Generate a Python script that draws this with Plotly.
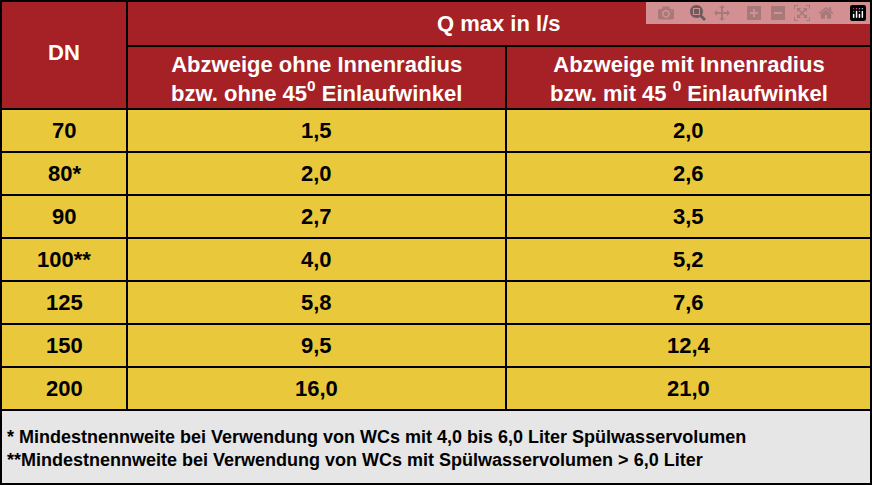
import plotly.graph_objects as go

dn = ["70", "80*", "90", "100**", "125", "150", "200"]
q_ohne = ["1,5", "2,0", "2,7", "4,0", "5,8", "9,5", "16,0"]
q_mit = ["2,0", "2,6", "3,5", "5,2", "7,6", "12,4", "21,0"]
header_top = "Q max in l/s"
header_dn = "DN"
header_ohne = "Abzweige ohne Innenradius<br>bzw. ohne 45<sup>0</sup> Einlaufwinkel"
header_mit = "Abzweige mit Innenradius<br>bzw. mit 45 <sup>0</sup> Einlaufwinkel"
footnotes = [
    "* Mindestnennweite bei Verwendung von WCs mit 4,0 bis 6,0 Liter Spülwasservolumen",
    "**Mindestnennweite bei Verwendung von WCs mit Spülwasservolumen > 6,0 Liter",
]

RED = "#a52126"
YELLOW = "#e9c93b"
GREY = "#e6e6e6"
W, H = 872, 485
cols = [1, 127, 506, 871]
head_split, head_bottom = 46, 109
row_h = 43
font = "Liberation Sans"

fig = go.Figure()
line = dict(color="black", width=2)


def cell(x0, x1, y0, y1, color):
    fig.add_shape(type="rect", x0=x0, x1=x1, y0=y0, y1=y1, fillcolor=color, line=line, layer="below")


def text(x, y, s, color, size, anchor="center"):
    fig.add_annotation(x=x, y=y, text=s, showarrow=False, xanchor=anchor,
                       font=dict(family=font, size=size, color=color))


# header
cell(cols[0], cols[1], 1, head_bottom, RED)
cell(cols[1], cols[3], 1, head_split, RED)
cell(cols[1], cols[2], head_split, head_bottom, RED)
cell(cols[2], cols[3], head_split, head_bottom, RED)
text((cols[0] + cols[1]) / 2, 52, "<b>" + header_dn + "</b>", "white", 22)
text((cols[1] + cols[3]) / 2, 23, "<b>" + header_top + "</b>", "white", 22)
text((cols[1] + cols[2]) / 2, 79, "<b>" + header_ohne + "</b>", "white", 22)
text((cols[2] + cols[3]) / 2, 79, "<b>" + header_mit + "</b>", "white", 22)

# data rows
for i, vals in enumerate(zip(dn, q_ohne, q_mit)):
    y0 = head_bottom + i * row_h
    for j, v in enumerate(vals):
        cell(cols[j], cols[j + 1], y0, y0 + row_h, YELLOW)
        text((cols[j] + cols[j + 1]) / 2, y0 + row_h / 2, "<b>" + v + "</b>", "black", 22)

# footer
foot_top = head_bottom + len(dn) * row_h
cell(cols[0], cols[3], foot_top, H - 1, GREY)
for k, f in enumerate(footnotes):
    text(5, foot_top + 27 + k * 23, "<b>" + f + "</b>", "black", 18, anchor="left")

fig.update_xaxes(range=[0, W], visible=False)
fig.update_yaxes(range=[H, 0], visible=False)
fig.update_layout(width=W, height=H, margin=dict(l=0, r=0, t=0, b=0),
                  plot_bgcolor="white", paper_bgcolor="white", showlegend=False)
fig.write_html("out.html", post_script="document.body.style.margin='0';")
